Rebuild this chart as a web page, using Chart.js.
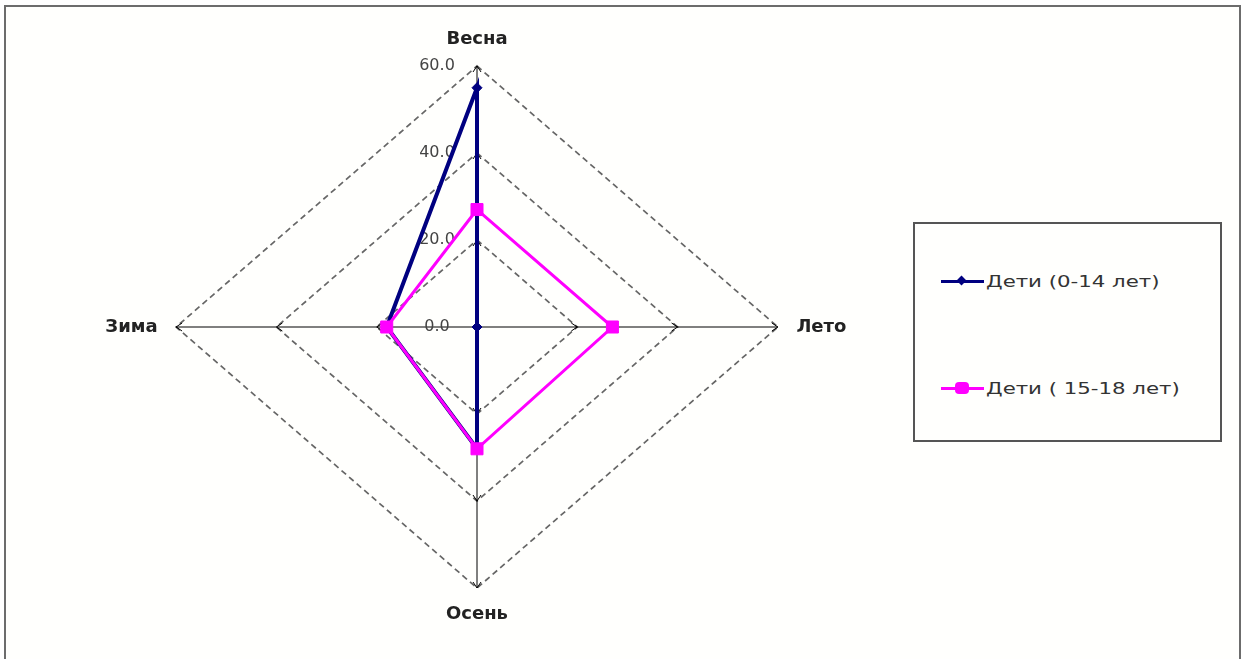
<!DOCTYPE html>
<html>
<head>
<meta charset="utf-8">
<script src="https://cdn.jsdelivr.net/npm/chart.js@4.4.1/dist/chart.umd.min.js"></script>
<style>
  html, body { margin: 0; padding: 0; background: #ffffff; }
  #wrap { position: relative; width: 1243px; height: 659px; overflow: hidden; background: #ffffff; }
  #frame { position: absolute; left: 4px; top: 5px; width: 1233px; height: 700px; border: 2px solid #6c6c6c; background: #fffffd; }
  #chartBox { position: absolute; left: 0; top: 0; width: 960px; height: 659px; }
  #legend { position: absolute; left: 913px; top: 222px; width: 305px; height: 216px; border: 2px solid #555; background: #fffffd; }
  .item { position: absolute; left: 26px; height: 20px; }
  .line { position: absolute; left: 0; width: 43px; height: 3px; top: 8px; }
  .mk { position: absolute; }
  .txt { position: absolute; left: 45px; top: 0; white-space: nowrap; font-family: "DejaVu Sans", sans-serif; font-size: 16px; line-height: 20px; color: #333; transform: scaleX(1.33); transform-origin: left center; }
</style>
</head>
<body>
<div id="wrap">
  <div id="frame"></div>
  <div id="chartBox"><canvas id="c" width="960" height="659"></canvas></div>
  <div id="legend">
    <div class="item" style="top:48px">
      <div class="line" style="background:#000080"></div>
      <div class="mk" style="left:17px;top:5px;width:7px;height:7px;background:#000080;transform:rotate(45deg)"></div>
      <div class="txt" id="l0"></div>
    </div>
    <div class="item" style="top:155px">
      <div class="line" style="background:#ff00ff"></div>
      <div class="mk" style="left:14px;top:3px;width:14px;height:12px;border-radius:4px;background:#ff00ff"></div>
      <div class="txt" id="l1"></div>
    </div>
  </div>
</div>
<script>
// ---- data ----
const seasons = ["Весна", "Лето", "Осень", "Зима"];
const seriesNames = ["Дети (0-14 лет)", "Дети ( 15-18 лет)"];
const kids0to14 = [55, 0, 28, 18];
const kids15to18 = [27, 27, 28, 18];
const tickValues = [0, 20, 40, 60];

// ---- stretched radial scale (the original picture is wider than tall) ----
const GEO = { cx: 477, cy: 327, r: 261, sx: 1.153, tickShift: -40 };
class StretchedRadial extends Chart.RadialLinearScale {
  setCenterPoint() {
    this.xCenter = GEO.cx;
    this.yCenter = GEO.cy;
    this.drawingArea = GEO.r;
  }
  getPointPosition(index, distance, additionalAngle) {
    const p = super.getPointPosition(index, distance, additionalAngle);
    p.x = this.xCenter + (p.x - this.xCenter) * GEO.sx;
    return p;
  }
  drawLabels() {
    // shift labels left of the vertical axis and keep the "0.0" label at the centre
    const x = this.xCenter;
    const t = this.ticks;
    this.xCenter = x + GEO.tickShift;
    this.ticks = [{ value: t[0].value, label: '' }].concat(t);
    super.drawLabels();
    this.ticks = t;
    this.xCenter = x;
  }
}
StretchedRadial.id = 'stretchedRadial';
StretchedRadial.defaults = Chart.RadialLinearScale.defaults;
Chart.register(StretchedRadial);

// small arrow heads on the axes at each grid ring
const axisArrows = {
  id: 'axisArrows',
  beforeDatasetsDraw(chart) {
    const s = chart.scales.r;
    const ctx = chart.ctx;
    ctx.save();
    ctx.strokeStyle = '#000';
    ctx.lineWidth = 1;
    for (let i = 0; i < seasons.length; i++) {
      tickValues.forEach(v => {
        if (v === 0) return;
        const d = s.getDistanceFromCenterForValue(v);
        const p = s.getPointPosition(i, d);
        const q = s.getPointPosition(i, d - 6);
        const dx = p.x - q.x, dy = p.y - q.y;
        const len = Math.hypot(dx, dy) || 1;
        const ux = dx / len, uy = dy / len;
        ctx.beginPath();
        ctx.moveTo(p.x - ux * 6 - uy * 4, p.y - uy * 6 + ux * 4);
        ctx.lineTo(p.x, p.y);
        ctx.lineTo(p.x - ux * 6 + uy * 4, p.y - uy * 6 - ux * 4);
        ctx.stroke();
      });
    }
    ctx.restore();
  }
};

document.getElementById('l0').textContent = seriesNames[0];
document.getElementById('l1').textContent = seriesNames[1];

new Chart(document.getElementById('c'), {
  type: 'radar',
  data: {
    labels: seasons,
    datasets: [
      {
        label: seriesNames[0],
        data: kids0to14,
        borderColor: '#000080',
        backgroundColor: '#000080',
        borderWidth: 4,
        pointStyle: 'rectRot',
        pointRadius: 5,
        pointBackgroundColor: '#000080',
        pointBorderColor: '#000080',
        pointBorderWidth: 1,
        fill: false,
        tension: 0,
        order: 1
      },
      {
        label: seriesNames[1],
        data: kids15to18,
        borderColor: '#ff00ff',
        backgroundColor: '#ff00ff',
        borderWidth: 3,
        pointStyle: 'rect',
        pointRadius: 8.5,
        pointBackgroundColor: '#ff00ff',
        pointBorderColor: '#ff00ff',
        pointBorderWidth: 1,
        fill: false,
        tension: 0,
        order: 0
      }
    ]
  },
  options: {
    responsive: false,
    animation: false,
    events: [],
    plugins: { legend: { display: false }, tooltip: { enabled: false } },
    scales: {
      r: {
        type: 'stretchedRadial',
        min: 0,
        max: 60,
        beginAtZero: true,
        startAngle: 0,
        ticks: {
          stepSize: 20,
          showLabelBackdrop: false,
          color: '#444',
          font: { family: 'DejaVu Sans', size: 16 },
          callback: v => v.toFixed(1)
        },
        grid: { color: '#666', lineWidth: 1.7, circular: false },
        border: { dash: [6, 4] },
        angleLines: { color: '#000', lineWidth: 1, borderDash: [] },
        pointLabels: {
          color: '#222',
          padding: 6,
          font: { family: 'DejaVu Sans', size: 18, weight: 'bold' }
        }
      }
    }
  },
  plugins: [axisArrows]
});
</script>
</body>
</html>
